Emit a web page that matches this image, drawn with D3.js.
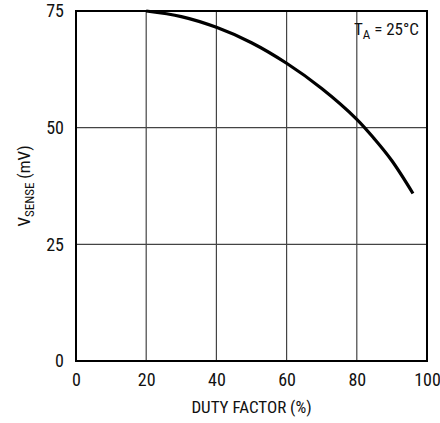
<!DOCTYPE html>
<html>
<head>
<meta charset="utf-8">
<script src="https://cdn.jsdelivr.net/npm/d3@7"></script>
<style>
  body { margin: 0; background: #fff; }
  text { font-family: "Liberation Sans Narrow", "Roboto Condensed", "Liberation Sans", Arial, sans-serif; fill: #111; }
</style>
</head>
<body>
<div id="plot"></div>
<script>
// chart data
var dutyFactor = [20, 30, 40, 50, 60, 70, 80, 85, 90, 96];
var vSense = [75, 73.8, 71.5, 68.2, 63.8, 58.4, 51.8, 47.6, 42.9, 35.9];
var xTicks = [0, 20, 40, 60, 80, 100];
var yTicks = [0, 25, 50, 75];

var svgWidth = 440;
var svgHeight = 423;

var margin = { top: 11, right: 13, bottom: 62, left: 76 };
var width = svgWidth - margin.left - margin.right;
var height = svgHeight - margin.top - margin.bottom;

var svg = d3.select("#plot")
  .append("svg")
  .attr("width", svgWidth)
  .attr("height", svgHeight);

var chartGroup = svg.append("g")
  .attr("transform", `translate(${margin.left}, ${margin.top})`);

var xScale = d3.scaleLinear().domain([0, 100]).range([0, width]);
var yScale = d3.scaleLinear().domain([0, 75]).range([height, 0]);

// grid lines
chartGroup.selectAll(".vgrid")
  .data(xTicks.slice(1, -1))
  .enter()
  .append("line")
  .attr("x1", d => xScale(d))
  .attr("x2", d => xScale(d))
  .attr("y1", 0)
  .attr("y2", height)
  .attr("stroke", "#444")
  .attr("stroke-width", 1.2);

chartGroup.selectAll(".hgrid")
  .data(yTicks.slice(1, -1))
  .enter()
  .append("line")
  .attr("x1", 0)
  .attr("x2", width)
  .attr("y1", d => yScale(d))
  .attr("y2", d => yScale(d))
  .attr("stroke", "#444")
  .attr("stroke-width", 1.2);

// frame
chartGroup.append("rect")
  .attr("width", width)
  .attr("height", height)
  .attr("fill", "none")
  .attr("stroke", "#000")
  .attr("stroke-width", 2);

// axes (labels only)
var bottomAxis = d3.axisBottom(xScale).tickValues(xTicks).tickSize(0).tickPadding(12);
var leftAxis = d3.axisLeft(yScale).tickValues(yTicks).tickSize(0).tickPadding(12);

var xAxis = chartGroup.append("g")
  .attr("transform", `translate(0, ${height})`)
  .call(bottomAxis);
xAxis.select(".domain").remove();
xAxis.selectAll("text").attr("font-size", "18px").attr("dy", "0.72em").style("font-family", null);

var yAxis = chartGroup.append("g").call(leftAxis);
yAxis.select(".domain").remove();
yAxis.selectAll("text").attr("font-size", "18px").style("font-family", null);

// curve
var line = d3.line()
  .x((d, i) => xScale(dutyFactor[i]))
  .y(d => yScale(d))
  .curve(d3.curveCatmullRom.alpha(0.5));

chartGroup.append("path")
  .datum(vSense)
  .attr("d", line)
  .attr("fill", "none")
  .attr("stroke", "#000")
  .attr("stroke-width", 3.2);

// axis titles
svg.append("text")
  .attr("x", margin.left + width / 2)
  .attr("y", 413)
  .attr("text-anchor", "middle")
  .attr("font-size", "17px")
  .text("DUTY FACTOR (%)");

var yTitle = svg.append("text")
  .attr("transform", `translate(30, ${margin.top + height / 2}) rotate(-90)`)
  .attr("text-anchor", "middle")
  .attr("font-size", "17px");
yTitle.append("tspan").text("V");
yTitle.append("tspan").attr("font-size", "13px").attr("dy", "4").text("SENSE");
yTitle.append("tspan").attr("dy", "-4").text(" (mV)");

// annotation
var note = chartGroup.append("text")
  .attr("x", width - 8)
  .attr("y", 24)
  .attr("text-anchor", "end")
  .attr("font-size", "17px");
note.append("tspan").text("T");
note.append("tspan").attr("font-size", "13px").attr("dy", "4").text("A");
note.append("tspan").attr("dy", "-4").text(" = 25°C");
</script>
</body>
</html>
